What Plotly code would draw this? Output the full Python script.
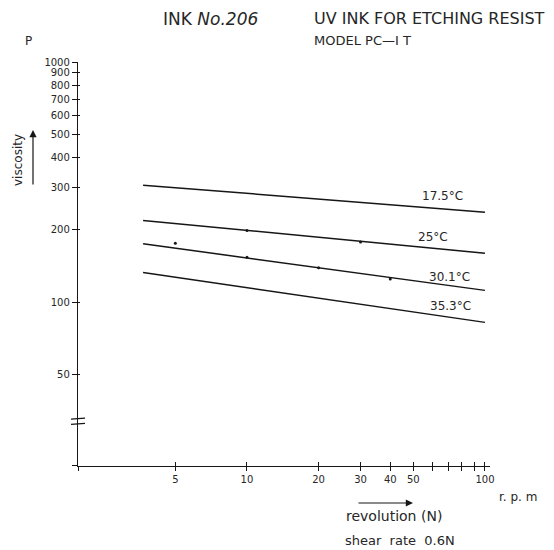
import math
import plotly.graph_objects as go

# ---- data ----
rpm_ends = [3.66, 100]
series_names = ["17.5°C", "25°C", "30.1°C", "35.3°C"]
visc_175 = [307, 237]
visc_25 = [219, 160]
visc_301 = [175, 112]
visc_353 = [133, 82.4]

pts_25_x = [10, 30]
pts_25_y = [199, 178]
pts_301_x = [5, 10, 20, 40]
pts_301_y = [176, 154, 139, 125]

x_tickvals = [1.95, 5, 10, 20, 30, 40, 50, 60, 70, 80, 90, 100]
x_ticktext = ["", "5", "10", "20", "30", "40", "50", "", "", "", "", "100"]
y_tickvals = [20.8, 50, 100, 200, 300, 400, 500, 600, 700, 800, 900, 1000]
y_ticktext = ["", "50", "100", "200", "300", "400", "500", "600", "700", "800", "900", "1000"]

# page has an 8px body margin, so the figure is drawn 8px smaller
OFF = 8
W, H = 554 - OFF, 550 - OFF
PLOT_L, PLOT_T, PW, PH = 78, 62, 412, 404          # in page pixels
L, T = PLOT_L - OFF, PLOT_T - OFF
R, B = W - L - PW, H - T - PH


def px(x, y):
    return (x - PLOT_L) / PW, (PLOT_T + PH - y) / PH


INK = "#161616"
TXT = "#262626"
FONT = "DejaVu Sans"

fig = go.Figure()
for name, ys in zip(series_names, [visc_175, visc_25, visc_301, visc_353]):
    fig.add_trace(go.Scatter(x=rpm_ends, y=ys, mode="lines", name=name,
                             line=dict(color=INK, width=1.5), hoverinfo="skip"))
fig.add_trace(go.Scatter(x=pts_25_x, y=pts_25_y, mode="markers",
                         marker=dict(color=INK, size=3), hoverinfo="skip"))
fig.add_trace(go.Scatter(x=pts_301_x, y=pts_301_y, mode="markers",
                         marker=dict(color=INK, size=3), hoverinfo="skip"))
# invisible trace on the overlay axes (inside tick marks)
fig.add_trace(go.Scatter(x=rpm_ends, y=visc_175, xaxis="x2", yaxis="y2",
                         mode="lines", line=dict(width=0), opacity=0,
                         hoverinfo="skip"))

xr = [math.log10(1.95), math.log10(1.95) + PW / 238.0]
yr = [1.318, 3.0]

tickfont = dict(family=FONT, size=10, color=TXT)
fig.update_layout(
    width=W, height=H, autosize=False,
    margin=dict(l=L, r=R, t=T, b=B, pad=0),
    paper_bgcolor="white", plot_bgcolor="white",
    showlegend=False,
    xaxis=dict(type="log", range=xr, showgrid=False, zeroline=False,
               showline=True, linecolor=INK, linewidth=1.3,
               ticks="outside", ticklen=4, tickwidth=1.2, tickcolor=INK,
               tickmode="array", tickvals=x_tickvals, ticktext=x_ticktext,
               tickfont=tickfont),
    yaxis=dict(type="log", range=yr, showgrid=False, zeroline=False,
               showline=True, linecolor=INK, linewidth=1.3,
               ticks="outside", ticklen=5, tickwidth=1.2, tickcolor=INK,
               tickmode="array", tickvals=y_tickvals, ticktext=y_ticktext,
               tickfont=tickfont),
    xaxis2=dict(type="log", range=xr, overlaying="x", showgrid=False,
                zeroline=False, showline=False, ticks="inside", ticklen=4,
                tickwidth=1.2, tickcolor=INK, tickmode="array",
                tickvals=x_tickvals[1:], showticklabels=False),
    yaxis2=dict(type="log", range=yr, overlaying="y", showgrid=False,
                zeroline=False, showline=False, ticks="inside", ticklen=2,
                tickwidth=1.2, tickcolor=INK, tickmode="array",
                tickvals=y_tickvals[1:], showticklabels=False),
)

annots = []


def add_text(text, x, y, size, family=FONT, xanchor="center", angle=0):
    xp, yp = px(x, y)
    annots.append(dict(text=text, x=xp, y=yp, xref="paper", yref="paper",
                       showarrow=False, xanchor=xanchor, yanchor="middle",
                       textangle=angle,
                       font=dict(family=family, size=size, color=TXT)))


add_text("INK <i>No.206</i>", 210, 19, 17)
add_text("UV INK FOR ETCHING RESIST", 312, 19, 16, xanchor="left")
add_text("MODEL PC\u2014I T", 312, 41, 13, xanchor="left")
add_text("P", 28, 41, 12)
add_text("viscosity", 18, 160, 12, angle=-90)

add_text(series_names[0], 442, 196, 12)
add_text(series_names[1], 433, 237, 12)
add_text(series_names[2], 449, 277, 12)
add_text(series_names[3], 450, 306, 12)

add_text("r. p. m", 518, 497, 12)
add_text("revolution (N)", 394, 516, 14)
add_text("shear  rate  0.6N", 400, 540, 13)

# arrows
for (hx, hy, tx, ty) in [(413, 503, 357, 503), (33, 130, 33, 186)]:
    xp, yp = px(hx, hy)
    annots.append(dict(x=xp, y=yp, xref="paper", yref="paper", text="",
                       showarrow=True, ax=tx - hx, ay=ty - hy,
                       arrowhead=2, arrowsize=1.2, arrowwidth=1.2,
                       arrowcolor=INK))
fig.update_layout(annotations=annots)

# axis break marks on the y axis
for yv in [32.6, 31.0]:
    fig.add_shape(type="line", xref="paper", yref="y", xsizemode="pixel",
                  xanchor=0, x0=-7, x1=7, y0=yv, y1=yv * 1.01,
                  line=dict(color=INK, width=1.3))

fig.write_html("out.html")
